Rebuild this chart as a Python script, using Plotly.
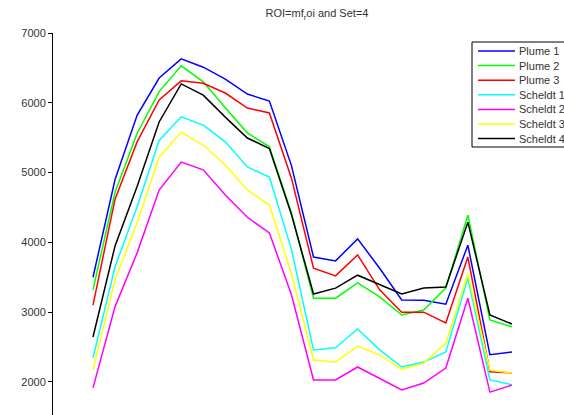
import plotly.graph_objects as go

# ---- data ----
x_index = list(range(1, 21))
series_names = ["Plume 1", "Plume 2", "Plume 3", "Scheldt 1", "Scheldt 2", "Scheldt 3", "Scheldt 4"]
plume_1 = [3500, 4900, 5820, 6355, 6630, 6510, 6340, 6125, 6025, 5100, 3790, 3735, 4050, 3630, 3175, 3170, 3115, 3960, 2390, 2430]
plume_2 = [3320, 4720, 5560, 6160, 6530, 6300, 5930, 5570, 5370, 4420, 3200, 3200, 3420, 3220, 2960, 3030, 3345, 4390, 2890, 2790]
plume_3 = [3100, 4620, 5440, 6040, 6315, 6280, 6140, 5925, 5855, 4920, 3630, 3520, 3820, 3320, 3000, 3000, 2845, 3790, 2145, 2130]
scheldt_1 = [2345, 3650, 4510, 5460, 5800, 5680, 5440, 5080, 4935, 3900, 2460, 2490, 2760, 2460, 2215, 2285, 2430, 3490, 2030, 1960]
scheldt_2 = [1915, 3080, 3850, 4750, 5150, 5040, 4680, 4360, 4135, 3250, 2030, 2030, 2215, 2055, 1885, 1985, 2200, 3200, 1855, 1955]
scheldt_3 = [2170, 3470, 4280, 5220, 5580, 5395, 5110, 4750, 4535, 3550, 2315, 2285, 2515, 2385, 2185, 2270, 2555, 3550, 2170, 2130]
scheldt_4 = [2645, 3950, 4800, 5725, 6270, 6110, 5795, 5495, 5345, 4400, 3260, 3345, 3530, 3390, 3260, 3345, 3360, 4290, 2960, 2830]
y_ticks = [2000, 3000, 4000, 5000, 6000, 7000]
title_text = "ROI=mf<sub>r</sub>oi and Set=4"

all_series = [plume_1, plume_2, plume_3, scheldt_1, scheldt_2, scheldt_3, scheldt_4]
colors = ["#0000FF", "#00FF00", "#FF0000", "#00FFFF", "#FF00FF", "#FFFF00", "#000000"]

W, H = 564, 415
ML, MT = 53, 33
PW, PH = W - ML, H - MT
FONT = "Liberation Sans, Arial, Helvetica, sans-serif"

def px_to_paper_x(px):
    return (px - ML) / PW

def px_to_paper_y(py):
    return (H - py) / PH

fig = go.Figure()
for name, vals, col in zip(series_names, all_series, colors):
    fig.add_trace(go.Scatter(x=x_index, y=vals, mode="lines", name=name,
                             line=dict(color=col, width=1.5), showlegend=False))

# manual MATLAB-like legend (box, line samples, labels)
shapes = []
annotations = []
box_left, box_top, box_bottom, box_right = 472, 42, 147, 600
shapes.append(dict(type="rect", xref="paper", yref="paper",
                   x0=px_to_paper_x(box_left), x1=px_to_paper_x(box_right),
                   y0=px_to_paper_y(box_bottom), y1=px_to_paper_y(box_top),
                   line=dict(color="#000000", width=1), fillcolor="white", layer="above"))
row0, row_step = 51, 14.6
for k, (name, col) in enumerate(zip(series_names, colors)):
    ry = row0 + k * row_step
    shapes.append(dict(type="line", xref="paper", yref="paper",
                       x0=px_to_paper_x(478), x1=px_to_paper_x(515),
                       y0=px_to_paper_y(ry), y1=px_to_paper_y(ry),
                       line=dict(color=col, width=1.5), layer="above"))
    annotations.append(dict(text=name, xref="paper", yref="paper",
                            x=px_to_paper_x(517), y=px_to_paper_y(ry),
                            xanchor="left", yanchor="middle", showarrow=False,
                            font=dict(family=FONT, size=11, color="#333333")))

fig.update_layout(
    width=W, height=H,
    margin=dict(l=ML, r=0, t=MT, b=0, pad=0, autoexpand=False),
    paper_bgcolor="white", plot_bgcolor="white",
    title=dict(text=title_text, x=317 / W, y=1 - 13.5 / H, xanchor="center", yanchor="middle",
               font=dict(family=FONT, size=11, color="#333333")),
    xaxis=dict(range=[-0.814, 22.36], visible=False, showgrid=False, zeroline=False),
    yaxis=dict(range=[1527, 7000], tickvals=y_ticks, ticktext=[str(v) for v in y_ticks],
               showgrid=False, zeroline=False, showline=True, linecolor="#000000", linewidth=1,
               ticks="outside", ticklen=4, tickcolor="#000000", tickwidth=1,
               tickfont=dict(family=FONT, size=11, color="#333333")),
    shapes=shapes, annotations=annotations, showlegend=False,
)

fig.write_html("out.html", config={"displayModeBar": False},
               post_script="document.body.style.margin='0';document.body.style.overflow='hidden';")
